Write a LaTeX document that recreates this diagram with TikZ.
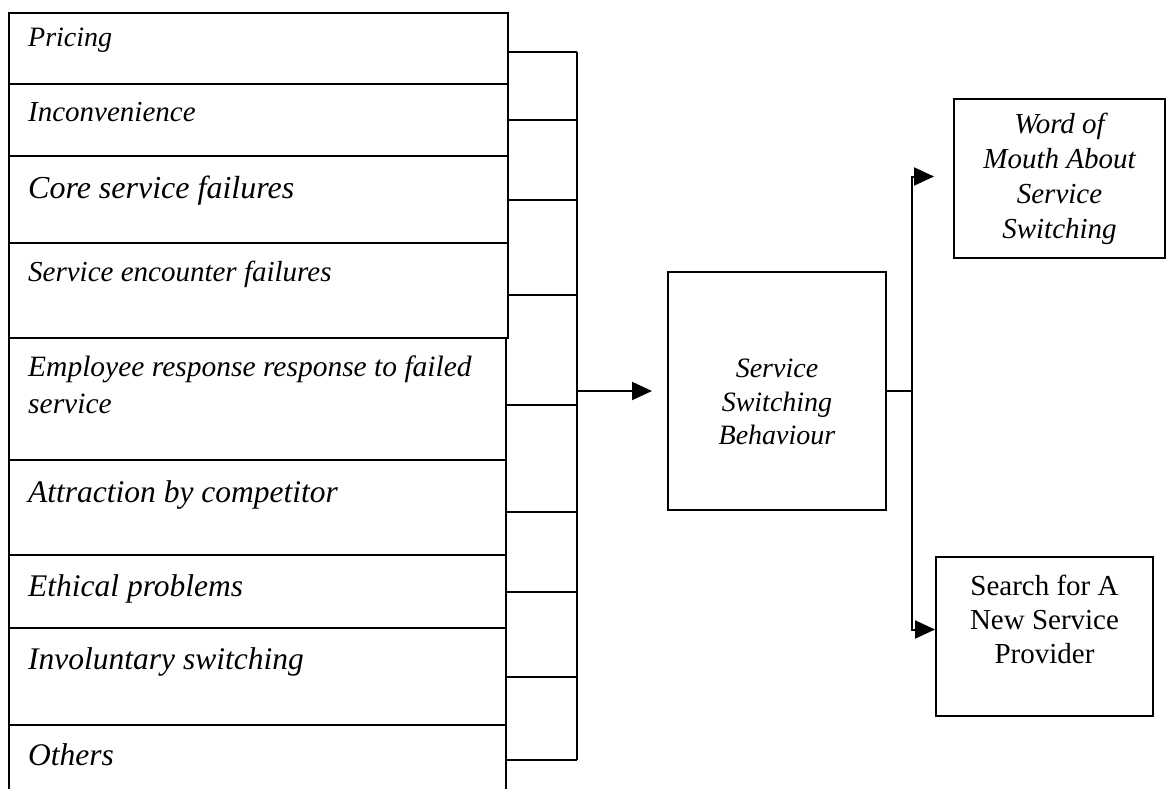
\documentclass[tikz,border=0pt]{standalone}
\usepackage{fontspec}
\setmainfont{Liberation Serif}
\usetikzlibrary{arrows.meta,positioning}

\begin{document}
\begin{tikzpicture}[x=1pt,y=-1pt]
\tikzset{
  causebox/.style={draw,rectangle,line width=2pt,minimum width=499pt,anchor=north west,inner sep=0pt},
  causetext/.style={anchor=base west,font=\fontsize{#1}{37}\selectfont\itshape,align=left,inner sep=0pt},
  causetext/.default=31.5,
  resultbox/.style={draw,rectangle,line width=2pt,anchor=north west,inner sep=0pt},
  resulttext/.style={font=\fontsize{29}{34}\selectfont,align=center,inner sep=0pt},
  link/.style={line width=2pt},
  directed/.style={-{Triangle[length=20pt,width=18pt]},line width=2pt}
}
\useasboundingbox (0,0) rectangle (1170,789);
\clip (0,0) rectangle (1170,789);
% causes
\node[causebox,minimum height=71pt] (n_pricing) at (8,12) {};
\node[causebox,minimum height=72pt] (n_incon) at (8,83) {};
\node[causebox,minimum height=87pt] (n_core) at (8,155) {};
\node[causebox,minimum height=95pt] (n_enc) at (8,242) {};
\node[causebox,minimum height=122pt,minimum width=497pt] (n_empl) at (8,337) {};
\node[causebox,minimum height=95pt,minimum width=497pt] (n_attr) at (8,459) {};
\node[causebox,minimum height=73pt,minimum width=497pt] (n_ethic) at (8,554) {};
\node[causebox,minimum height=97pt,minimum width=497pt] (n_invol) at (8,627) {};
\node[causebox,minimum height=80pt,minimum width=497pt] (n_others) at (8,724) {};
\node[causetext=28] (t_pricing) at ([xshift=20pt,yshift=-35pt]n_pricing.north west) {Pricing};
\node[causetext=29] (t_incon) at ([xshift=20pt,yshift=-39pt]n_incon.north west) {Inconvenience};
\node[causetext=32] (t_core) at ([xshift=20pt,yshift=-43pt]n_core.north west) {Core service failures};
\node[causetext=29] (t_enc) at ([xshift=20pt,yshift=-39pt]n_enc.north west) {Service encounter failures};
\node[causetext=29.5] (t_empl) at ([xshift=20pt,yshift=-76pt]n_empl.north west) {Employee response response to failed\\service};
\node[causetext] (t_attr) at ([xshift=20pt,yshift=-43pt]n_attr.north west) {Attraction by competitor};
\node[causetext] (t_ethic) at ([xshift=20pt,yshift=-42pt]n_ethic.north west) {Ethical problems};
\node[causetext] (t_invol) at ([xshift=20pt,yshift=-42pt]n_invol.north west) {Involuntary switching};
\node[causetext] (t_others) at ([xshift=20pt,yshift=-41pt]n_others.north west) {Others};
% behaviour and outcomes
\node[resultbox,minimum width=218pt,minimum height=238pt] (n_ssb) at (667,271) {};
\node[resultbox,minimum width=211pt,minimum height=159pt] (n_wom) at (953,98) {};
\node[resultbox,minimum width=217pt,minimum height=159pt] (n_search) at (935,556) {};
\node[resulttext,font=\fontsize{28}{33.5}\selectfont\itshape] (t_ssb) at ([yshift=-11pt]n_ssb.center) {Service\\Switching\\Behaviour};
\node[resulttext,font=\fontsize{29}{35}\selectfont\itshape] (t_wom) at (n_wom.center) {Word of\\Mouth About\\Service\\Switching};
\node[resulttext] (t_search) at ([yshift=17pt]n_search.center) {Search for A\\New Service\\Provider};
% bus
\coordinate (bus_top) at (577,52);
\coordinate (bus_bot) at (577,760);
\coordinate (bus_mid) at (577,391);
\draw[link] (bus_top) -- (bus_bot);
\draw[link] ([yshift=-4pt]n_pricing.east) -- ([yshift=-4pt]n_pricing.east -| bus_top);
\draw[link] (n_incon.east) -- (n_incon.east -| bus_top);
\draw[link] (n_core.east) -- (n_core.east -| bus_top);
\draw[link] ([yshift=-4pt]n_enc.east) -- ([yshift=-4pt]n_enc.east -| bus_top);
\draw[link] ([yshift=-6pt]n_empl.east) -- ([yshift=-6pt]n_empl.east -| bus_top);
\draw[link] ([yshift=-4pt]n_attr.east) -- ([yshift=-4pt]n_attr.east -| bus_top);
\draw[link] (n_ethic.east) -- (n_ethic.east -| bus_top);
\draw[link] (n_invol.east) -- (n_invol.east -| bus_top);
\draw[link] (bus_bot -| n_others.east) -- (bus_bot);
\draw[directed] (bus_mid) -- ([xshift=-15pt]n_ssb.west);
% split
\draw[link] (n_ssb.east) -- ++(25,0) coordinate (split);
\draw[directed] (split) |- ([xshift=-19pt,yshift=2pt]n_wom.west);
\draw[directed] (split) |- ([yshift=7pt]n_search.west);
\end{tikzpicture}
\end{document}
